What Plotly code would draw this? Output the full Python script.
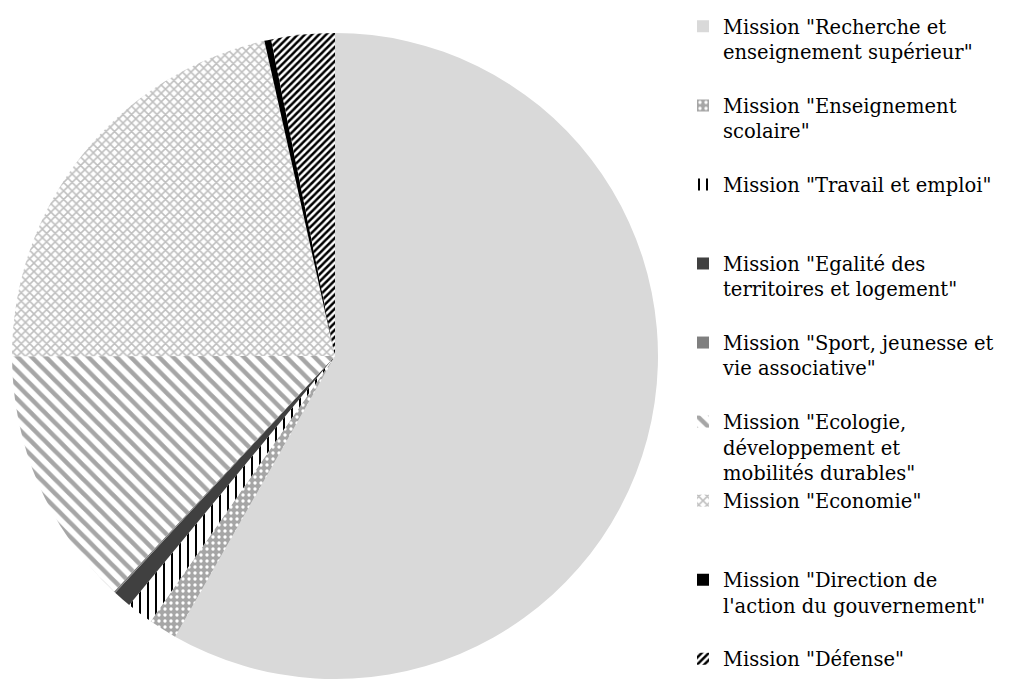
import plotly.graph_objects as go

# Budget missions, share of the total (%)
labels = [
    'Mission "Recherche et<br>enseignement supérieur"',
    'Mission "Enseignement<br>scolaire"',
    'Mission "Travail et emploi"',
    'Mission "Egalité des<br>territoires et logement"',
    'Mission "Sport, jeunesse et<br>vie associative"',
    'Mission "Ecologie,<br>développement et<br>mobilités durables"',
    'Mission "Economie"',
    'Mission "Direction de<br>l\'action du gouvernement"',
    'Mission "Défense"',
]
values = [58.25, 1.42, 1.33, 0.92, 0.08, 13.0, 21.5, 0.34, 3.17]

# Fill style per slice: (shape, foreground, background, tile size, solidity)
styles = [
    ("", "#d9d9d9", "#d9d9d9", 8, 1.0),
    (".", "#ffffff", "#a6a6a6", 6, 0.25),
    ("|", "#000000", "#ffffff", 8, 0.25),
    ("", "#404040", "#404040", 8, 1.0),
    ("", "#7f7f7f", "#7f7f7f", 8, 1.0),
    ("\\", "#a6a6a6", "#ffffff", 10, 0.45),
    ("x", "#bfbfbf", "#ffffff", 6, 0.45),
    ("", "#000000", "#000000", 8, 1.0),
    ("/", "#000000", "#ffffff", 5, 0.5),
]

# every legend entry takes three text lines except the last one
legend_labels = []
for i, lab in enumerate(labels):
    n = lab.count("<br>") + 1
    pad = 0 if i == len(labels) - 1 else max(0, 3 - n)
    legend_labels.append(lab + "<br> " * pad)

fig = go.Figure(
    go.Pie(
        labels=legend_labels,
        values=values,
        sort=False,
        direction="clockwise",
        rotation=0,
        textinfo="none",
        hoverinfo="label+percent",
        marker=dict(
            colors=[s[2] for s in styles],
            line=dict(width=0),
            pattern=dict(
                shape=[s[0] for s in styles],
                fgcolor=[s[1] for s in styles],
                bgcolor=[s[2] for s in styles],
                size=[s[3] for s in styles],
                solidity=[s[4] for s in styles],
                fillmode="replace",
            ),
        ),
        domain=dict(x=[12 / 1013, 658 / 1013], y=[0, 1]),
    )
)

fig.update_layout(
    width=1013,
    height=679,
    margin=dict(l=0, r=0, t=33, b=0),
    paper_bgcolor="white",
    plot_bgcolor="white",
    showlegend=True,
    legend=dict(
        x=683 / 1013,
        xanchor="left",
        y=1.04,
        yanchor="top",
        valign="top",
        maxheight=679,
        font=dict(family="DejaVu Serif", size=19.5, color="#000000"),
        bgcolor="rgba(0,0,0,0)",
        borderwidth=0,
        tracegroupgap=0,
    ),
)

fig.write_html("out.html")
